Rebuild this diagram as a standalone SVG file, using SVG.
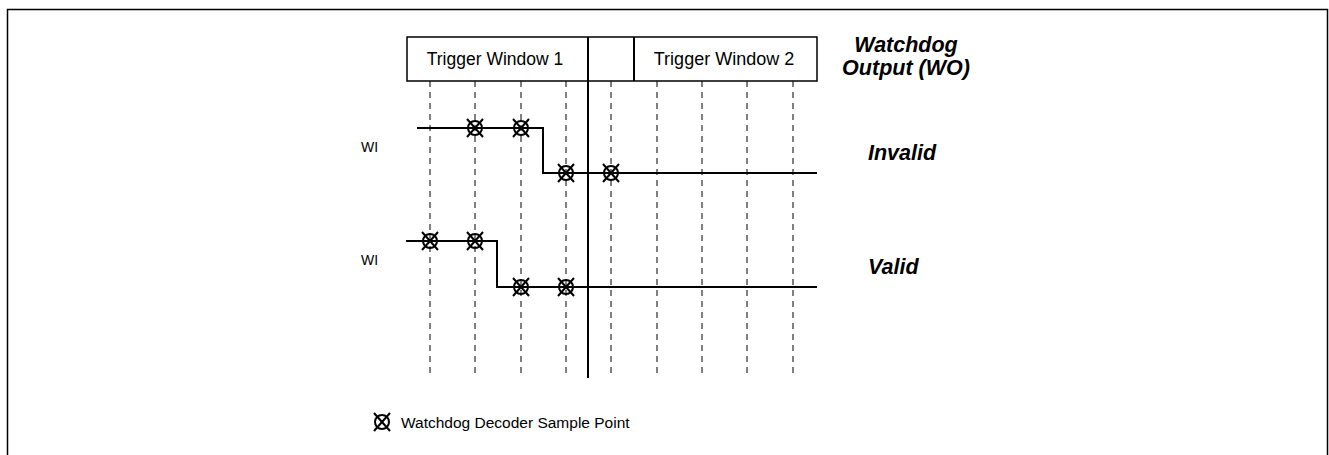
<svg xmlns="http://www.w3.org/2000/svg" width="1329" height="455" viewBox="0 0 1329 455">
<defs>
<style>
.t{font-family:"Liberation Sans",Arial,sans-serif;fill:#000}
.bi{font-weight:bold;font-style:italic;font-size:21.5px}
.dash{stroke:#000;stroke-width:1;stroke-dasharray:6,5;fill:none}
.sig{stroke:#000;stroke-width:2;fill:none}
</style>
<g id="sp">
<circle cx="0" cy="0" r="7" fill="none" stroke="#000" stroke-width="2"/>
<line x1="-8" y1="-9" x2="8" y2="9" stroke="#000" stroke-width="2"/>
<line x1="8" y1="-9" x2="-8" y2="9" stroke="#000" stroke-width="2"/>
</g>
</defs>
<rect width="1329" height="455" fill="#fff"/>
<path d="M7.5 460 V9.5 H1327.5 V460" fill="none" stroke="#000" stroke-width="1.5"/>
<g id="windows">
<rect x="407" y="37" width="410" height="44" fill="#fff" stroke="#000" stroke-width="1.5"/>
<line x1="634" y1="37" x2="634" y2="81" stroke="#000" stroke-width="2"/>
<text class="t" x="495" y="65" font-size="17.5" text-anchor="middle">Trigger Window 1</text>
<text class="t" x="724" y="65" font-size="18" text-anchor="middle">Trigger Window 2</text>
</g>
<g id="grid">
<line class="dash" x1="430" y1="81" x2="430" y2="376"/>
<line class="dash" x1="475" y1="81" x2="475" y2="376"/>
<line class="dash" x1="521" y1="81" x2="521" y2="376"/>
<line class="dash" x1="566" y1="81" x2="566" y2="376"/>
<line class="dash" x1="611" y1="81" x2="611" y2="376"/>
<line class="dash" x1="657" y1="81" x2="657" y2="376"/>
<line class="dash" x1="702" y1="81" x2="702" y2="376"/>
<line class="dash" x1="747" y1="81" x2="747" y2="376"/>
<line class="dash" x1="793" y1="81" x2="793" y2="376"/>
<line x1="588" y1="37" x2="588" y2="378" stroke="#000" stroke-width="2"/>
</g>
<g id="invalid">
<polyline class="sig" points="417,128 543,128 543,173 817,173"/>
<use href="#sp" x="475" y="128"/>
<use href="#sp" x="521" y="128"/>
<use href="#sp" x="566" y="173"/>
<use href="#sp" x="611" y="173"/>
<text class="t" x="361" y="152" font-size="14">WI</text>
<text class="t bi" x="868" y="160">Invalid</text>
</g>
<g id="valid">
<polyline class="sig" points="406,241 497,241 497,287 817,287"/>
<use href="#sp" x="430" y="241"/>
<use href="#sp" x="475" y="241"/>
<use href="#sp" x="521" y="287"/>
<use href="#sp" x="566" y="287"/>
<text class="t" x="361" y="265" font-size="14">WI</text>
<text class="t bi" x="868" y="274">Valid</text>
</g>
<g id="wo">
<text class="t bi" x="906" y="52" text-anchor="middle">Watchdog</text>
<text class="t bi" x="906" y="75" text-anchor="middle">Output (WO)</text>
</g>
<g id="legend">
<use href="#sp" x="382" y="422"/>
<text class="t" x="401" y="428" font-size="15.5">Watchdog Decoder Sample Point</text>
</g>
</svg>
